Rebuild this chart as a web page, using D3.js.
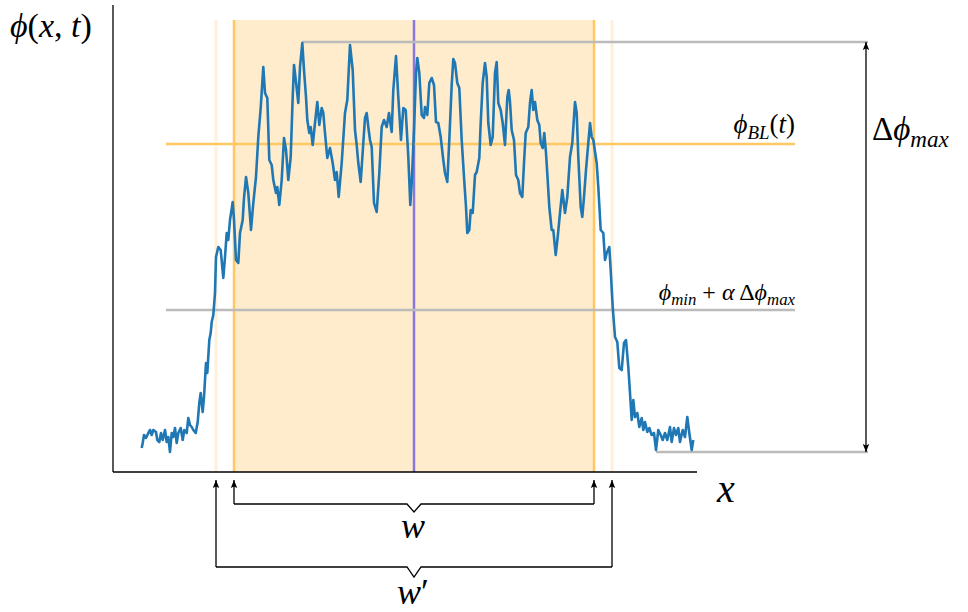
<!DOCTYPE html>
<html>
<head>
<meta charset="utf-8">
<script src="https://cdn.jsdelivr.net/npm/d3@7"></script>
<style>
  body { margin: 0; background: #fff; }
  text { font-family: "Liberation Serif", "DejaVu Serif", serif; }
</style>
</head>
<body>
<div id="chart"></div>
<script>
// signal: x = distance along axis, y = phi (arbitrary units)
const sigX = [28.7, 29.7, 31, 33, 35.3, 37, 38.7, 40.3, 43, 44.3, 46.3, 48, 49.7, 52, 53.7, 55.3, 57, 58.7, 60.3, 62,
  63.7, 65.3, 67.7, 69.7, 71.3, 73.7, 75.3, 77, 78.7, 80.3, 82.7, 84.7, 86.3, 87.7, 89.7, 91, 93, 94.3, 96.3, 97.7,
  98.7, 100.3, 102, 103, 105.3, 107.7, 110.3, 112, 113.7, 115.3, 117, 119.7, 121, 123, 125.3, 127, 129.7, 131, 133, 135.3,
  138, 140.3, 143, 145.3, 147.7, 150.3, 152, 154.3, 156.3, 158.7, 160.3, 163, 164.3, 166.3, 168.7, 171, 173, 175.3, 177.7, 179.7,
  181, 183, 185.3, 187, 189.3, 191, 193, 194.3, 196.3, 197.7, 199.7, 202, 204.3, 206.3, 208.7, 210.3, 212, 214.3, 217, 219.7,
  222, 223.7, 225.7, 228.7, 232, 234.3, 237, 239.7, 242, 243.7, 245.3, 247.7, 250.3, 252, 253.7, 255.3, 257, 258.7, 261, 263.7,
  266.3, 268.7, 271, 273.7, 276, 278.7, 280.3, 283, 285.3, 288, 290.3, 292.7, 295.3, 297.3, 298.7, 301, 303, 304.3, 306.3, 308.7,
  311, 312, 314.3, 316.3, 318.7, 321, 323, 325.3, 327.7, 330.3, 332, 334.3, 336.3, 338.7, 340.3, 342, 344.3, 346.3, 348.7, 351,
  353, 354.3, 356.3, 357.7, 359.7, 362, 363.7, 366.3, 367.7, 369.7, 372, 373.7, 375.3, 377.7, 379.7, 382, 383.7, 385.3, 387.7, 389.7,
  392, 394.3, 395.7, 397, 398.7, 401, 403, 405.3, 407, 409.3, 411, 412.7, 415.3, 417, 418.7, 420.3, 422, 424.3, 426.3, 427.7,
  429.7, 431.3, 433, 434.7, 436.3, 438.7, 440.3, 442.7, 444.7, 447, 449.3, 452, 454.3, 457, 459.3, 462, 463.7, 465.3, 467.7, 469.3,
  471, 473, 475.3, 477, 478.7, 480.3, 483.7, 485.3, 487.7, 490.3, 492, 493.7, 496.3, 497.7, 499.7, 502, 504.3, 506.3, 508.7, 511,
  513, 515.3, 517, 518.7, 520.3, 522, 524.3, 526.3, 528.7, 530.3, 532, 534.3, 536.3, 538.7, 541, 543, 545.3, 547.7, 549.7, 552,
  554.3, 557, 558.7, 561, 563, 565.3, 567, 569.7, 572, 574.3, 576.3, 578.7, 580.3];
const sigY = [24, 29, 37, 34, 39, 42, 37, 42, 40, 32, 30, 39, 32, 42, 30, 35, 20, 39, 35, 44,
  29, 39, 44, 32, 42, 39, 54, 47, 45, 42, 39, 50, 69, 79, 60, 75, 109, 99, 132, 139,
  150, 157, 179, 215, 225, 222, 194, 215, 239, 232, 252, 270, 252, 212, 209, 239, 252, 274, 295, 279,
  242, 269, 295, 335, 364, 405, 379, 374, 312, 307, 292, 279, 285, 267, 292, 334, 322, 292, 315, 375,
  407, 390, 369, 405, 429, 402, 375, 352, 339, 345, 327, 349, 370, 347, 364, 359, 339, 314, 324, 309,
  292, 300, 275, 309, 359, 372, 427, 402, 342, 327, 309, 290, 329, 354, 359, 345, 332, 325, 269, 260,
  299, 345, 352, 345, 359, 340, 382, 416, 375, 332, 364, 362, 315, 267, 289, 342, 399, 414, 399, 357,
  354, 365, 357, 389, 394, 387, 350, 349, 335, 312, 299, 290, 332, 387, 413, 409, 389, 384, 332, 295,
  265, 239, 242, 262, 259, 297, 300, 314, 349, 389, 409, 395, 349, 327, 335, 399, 410, 369, 362, 349,
  327, 375, 382, 370, 342, 332, 297, 292, 279, 275, 309, 339, 345, 369, 382, 362, 370, 352, 347, 329,
  324, 339, 319, 292, 265, 242, 242, 217, 235, 259, 282, 259, 275, 315, 329, 370, 359, 315, 265, 255,
  275, 302, 329, 349, 335, 332, 309, 285, 242, 239, 212, 219, 225, 202, 165, 135, 130, 104, 102, 129,
  132, 105, 79, 52, 72, 55, 59, 45, 54, 42, 50, 40, 44, 37, 39, 22, 42, 37, 32, 39,
  32, 45, 30, 44, 37, 44, 30, 42, 35, 55, 39, 22, 32];

// reference levels and widths
const phiMax = 430;
const phiMin = 20;
const phiBL = 328;
const phiThresh = 162;
const wInner = [121, 481];
const wOuter = [103, 499];
const xCenter = 301;

const width = 968, height = 612;

const svg = d3.select('#chart').append('svg')
  .attr('width', width)
  .attr('height', height);

const x = d3.scaleLinear().domain([0, 584]).range([113, 697]);
const y = d3.scaleLinear().domain([0, 467]).range([472, 5]);

// arrow heads
const defs = svg.append('defs');
defs.append('marker')
  .attr('id', 'arrow')
  .attr('viewBox', '0 0 10 10')
  .attr('refX', 10).attr('refY', 5)
  .attr('markerWidth', 8).attr('markerHeight', 8)
  .attr('markerUnits', 'userSpaceOnUse')
  .attr('orient', 'auto-start-reverse')
  .append('path')
  .attr('d', 'M0,1 L10,5 L0,9 L2,5 Z')
  .attr('fill', '#000');

const bandTop = y(452);

// shaded band w
svg.append('rect')
  .attr('x', x(wInner[0]))
  .attr('y', bandTop)
  .attr('width', x(wInner[1]) - x(wInner[0]))
  .attr('height', y(0) - bandTop)
  .attr('fill', '#ffeccc');

// outer (w') edges, faint
wOuter.forEach(v => {
  svg.append('line')
    .attr('x1', x(v)).attr('x2', x(v))
    .attr('y1', bandTop).attr('y2', y(0))
    .attr('stroke', '#fff0da')
    .attr('stroke-width', 3);
});

// inner (w) edges
wInner.forEach(v => {
  svg.append('line')
    .attr('x1', x(v)).attr('x2', x(v))
    .attr('y1', bandTop).attr('y2', y(0))
    .attr('stroke', '#ffc862')
    .attr('stroke-width', 2.5);
});

// centre line
svg.append('line')
  .attr('x1', x(xCenter)).attr('x2', x(xCenter))
  .attr('y1', bandTop).attr('y2', y(0))
  .attr('stroke', '#8877dd')
  .attr('stroke-width', 2.5);

// horizontal reference lines
svg.append('line')
  .attr('x1', x(53)).attr('x2', x(682))
  .attr('y1', y(phiBL)).attr('y2', y(phiBL))
  .attr('stroke', '#ffc862').attr('stroke-width', 2.5);

svg.append('line')
  .attr('x1', x(53)).attr('x2', x(682))
  .attr('y1', y(phiThresh)).attr('y2', y(phiThresh))
  .attr('stroke', '#bbbbbb').attr('stroke-width', 2.5);

svg.append('line')
  .attr('x1', x(189)).attr('x2', x(755))
  .attr('y1', y(phiMax)).attr('y2', y(phiMax))
  .attr('stroke', '#bbbbbb').attr('stroke-width', 2.5);

svg.append('line')
  .attr('x1', x(543)).attr('x2', x(755))
  .attr('y1', y(phiMin)).attr('y2', y(phiMin))
  .attr('stroke', '#bbbbbb').attr('stroke-width', 2.5);

// signal
const line = d3.line()
  .x((d, i) => x(sigX[i]))
  .y(d => y(d));

svg.append('path')
  .datum(sigY)
  .attr('fill', 'none')
  .attr('stroke', '#1f77b4')
  .attr('stroke-width', 2.6)
  .attr('stroke-linejoin', 'round')
  .attr('d', line);

// axes
svg.append('line')
  .attr('x1', x(0)).attr('x2', x(0))
  .attr('y1', y(467)).attr('y2', y(0))
  .attr('stroke', '#000').attr('stroke-width', 1.3);
svg.append('line')
  .attr('x1', x(0)).attr('x2', x(584))
  .attr('y1', y(0)).attr('y2', y(0))
  .attr('stroke', '#000').attr('stroke-width', 1.3);

// delta phi max double arrow
svg.append('line')
  .attr('x1', x(753)).attr('x2', x(753))
  .attr('y1', y(phiMax)).attr('y2', y(phiMin))
  .attr('stroke', '#000').attr('stroke-width', 1.3)
  .attr('marker-start', 'url(#arrow)')
  .attr('marker-end', 'url(#arrow)');

// width brackets
function bracket(lo, hi, yb, dip) {
  const cx = x(xCenter);
  const tip = y(0) + 8;
  svg.append('path')
    .attr('d', `M${x(lo)},${yb} L${cx - 7},${yb} L${cx},${yb + dip} L${cx + 7},${yb} L${x(hi)},${yb}`)
    .attr('fill', 'none').attr('stroke', '#000').attr('stroke-width', 1.3);
  [lo, hi].forEach(v => {
    svg.append('line')
      .attr('x1', x(v)).attr('x2', x(v))
      .attr('y1', yb).attr('y2', tip)
      .attr('stroke', '#000').attr('stroke-width', 1.3)
      .attr('marker-end', 'url(#arrow)');
  });
}
bracket(wInner[0], wInner[1], 504, 8);
bracket(wOuter[0], wOuter[1], 567, 10);

// labels
function label(tx, ty, size, anchor, parts) {
  const t = svg.append('text')
    .attr('x', tx).attr('y', ty)
    .attr('font-size', size)
    .attr('text-anchor', anchor);
  parts.forEach(p => {
    const s = t.append('tspan').text(p.t);
    if (p.it) s.attr('font-style', 'italic');
    if (p.sub) s.attr('font-size', size * 0.7).attr('dy', size * 0.22);
    if (p.up) s.attr('dy', -size * 0.22);
  });
  return t;
}

label(10, 37, 34, 'start', [{ t: 'ϕ', it: 1 }, { t: '(' }, { t: 'x', it: 1 }, { t: ', ' }, { t: 't', it: 1 }, { t: ')' }]);
label(726, 502, 40, 'middle', [{ t: 'x', it: 1 }]);
label(413, 538, 36, 'middle', [{ t: 'w', it: 1 }]);
label(413, 604, 36, 'middle', [{ t: 'w', it: 1 }, { t: '′' }]);
label(795, 133, 27, 'end', [{ t: 'ϕ', it: 1 }, { t: 'BL', it: 1, sub: 1 }, { t: '(', up: 1 }, { t: 't', it: 1 }, { t: ')' }]);
label(795, 300, 24, 'end', [{ t: 'ϕ', it: 1 }, { t: 'min', it: 1, sub: 1 }, { t: ' + ', up: 1 }, { t: 'α', it: 1 }, { t: ' Δ' }, { t: 'ϕ', it: 1 }, { t: 'max', it: 1, sub: 1 }]);
label(872, 140, 33, 'start', [{ t: 'Δ' }, { t: 'ϕ', it: 1 }, { t: 'max', it: 1, sub: 1 }]);
</script>
</body>
</html>
